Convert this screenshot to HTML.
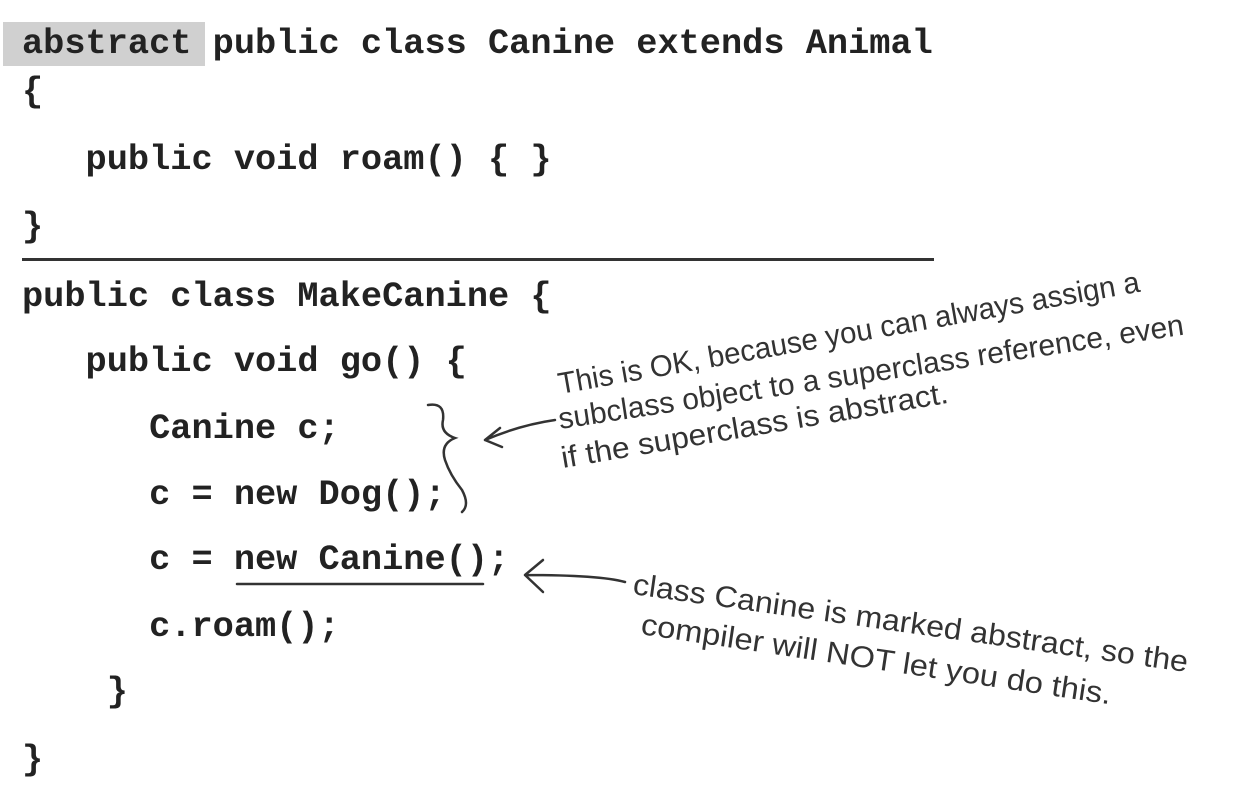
<!DOCTYPE html>
<html><head><meta charset="utf-8"><style>
body{margin:0;width:1251px;height:794px;background:#fff;overflow:hidden;position:relative}
.c{position:absolute;left:22px;font-family:"Liberation Mono",monospace;font-weight:bold;font-size:35.3px;color:#222;white-space:pre;line-height:1}
</style></head><body>
<div style="position:absolute;left:3px;top:22px;width:202px;height:44px;background:#d0d0d0"></div>
<div style="position:absolute;left:22px;top:258px;width:912px;height:3px;background:#333"></div>
<div class="c" style="top:27px">abstract public class Canine extends Animal</div>
<div class="c" style="top:75px">{</div>
<div class="c" style="top:143px">   public void roam() { }</div>
<div class="c" style="top:210px">}</div>
<div class="c" style="top:280px">public class MakeCanine {</div>
<div class="c" style="top:345px">   public void go() {</div>
<div class="c" style="top:412px">      Canine c;</div>
<div class="c" style="top:478px">      c = new Dog();</div>
<div class="c" style="top:543px">      c = new Canine();</div>
<div class="c" style="top:610px">      c.roam();</div>
<div class="c" style="top:675px">    }</div>
<div class="c" style="top:743px">}</div>
<svg width="1251" height="794" style="position:absolute;left:0;top:0" fill="none" stroke="#333" stroke-width="2.5" stroke-linecap="round">
<line x1="237" y1="584" x2="483" y2="584"/>
<path d="M428 405 Q445 402 443 420 Q440 433 455 438 Q440 444 445 460 Q450 475 462 490 Q470 505 462 512"/>
<path d="M555 420 Q520 425 485 440 M485 440 L500 428 M485 440 L502 447"/>
<path d="M625 582 Q600 575 525 575 M525 575 L543 560 M525 575 L543 592"/>
<g fill="#333" stroke="none" font-family="'Liberation Sans Narrow','Liberation Sans',sans-serif" font-size="30">
<text x="560" y="394" transform="rotate(-10 560 394)" textLength="590" lengthAdjust="spacingAndGlyphs">This is OK, because you can always assign a</text>
<text x="560" y="429" transform="rotate(-8.6 560 429)" textLength="632" lengthAdjust="spacingAndGlyphs">subclass object to a superclass reference, even</text>
<text x="563" y="468" transform="rotate(-9.6 563 468)" textLength="392" lengthAdjust="spacingAndGlyphs">if the superclass is abstract.</text>
<text x="632" y="594" transform="rotate(8 632 594)" textLength="560" lengthAdjust="spacingAndGlyphs">class Canine is marked abstract, so the</text>
<text x="640" y="634" transform="rotate(8.5 640 634)" textLength="475" lengthAdjust="spacingAndGlyphs">compiler will NOT let you do this.</text>
</g>
</svg>
</body></html>
